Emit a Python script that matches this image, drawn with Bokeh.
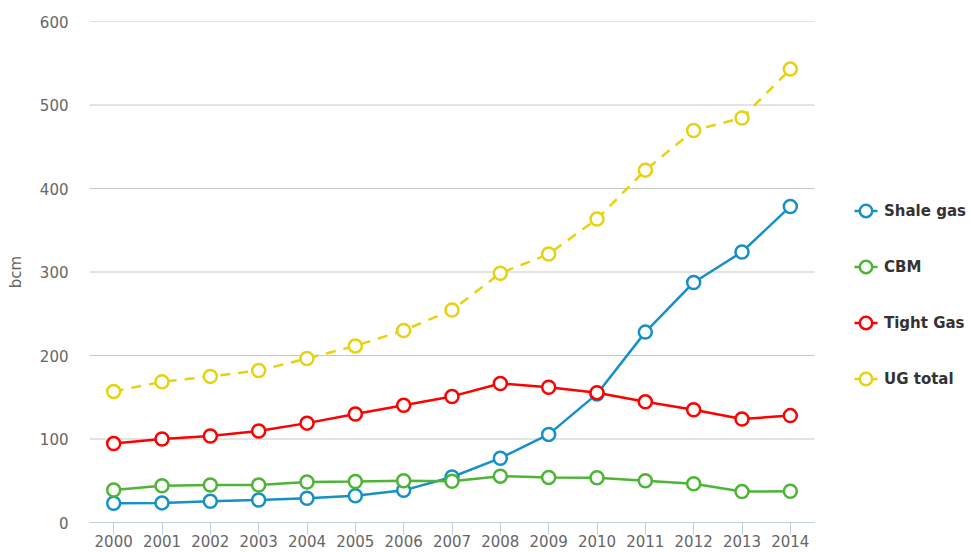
from bokeh.plotting import figure
from bokeh.models import Range1d, FixedTicker, Legend, LegendItem
from bokeh.embed import file_html
from bokeh.resources import INLINE

years = list(range(2000, 2015))
shale_gas = [23, 23.5, 25.5, 27, 29, 32, 38.5, 54.5, 77, 105.5, 154, 228, 287.5, 324, 378.5]
cbm = [39, 44, 45, 45, 48.5, 49, 50, 49.5, 55.5, 54, 53.5, 50, 46.5, 37, 37.5]
tight_gas = [94.5, 100, 103.5, 109.5, 119, 130, 140.5, 151, 166.5, 162, 155.5, 144.5, 135, 124, 128]
ug_total = [157, 168.5, 175, 182, 196.5, 211.5, 230, 254.5, 298.5, 321.5, 363.5, 422, 469.5, 484.5, 543]
y_ticks = [0, 100, 200, 300, 400, 500, 600]

series = [
    ("Shale gas", shale_gas, "#1590c9", "solid"),
    ("CBM", cbm, "#4db535", "solid"),
    ("Tight Gas", tight_gas, "#ff0000", "solid"),
    ("UG total", ug_total, "#e6d20f", "10 8"),
]

FONT = "DejaVu Sans"

W, H = 971, 552
LEFT, TOP, BOTTOM = 89, 21, 30
band_px = 725 / len(years)
x_start = years[0] - 0.5
x_band_end = years[-1] + 0.5
x_end = x_start + (W - LEFT) / band_px

p = figure(width=W, height=H, x_range=Range1d(x_start, x_end),
           y_range=Range1d(0, 600), output_backend="svg", toolbar_location=None,
           min_border_left=LEFT, min_border_right=0, min_border_top=TOP, min_border_bottom=BOTTOM)
p.outline_line_color = None
p.background_fill_color = "white"
p.border_fill_color = "white"

p.xgrid.grid_line_color = None
p.ygrid.grid_line_color = None
p.segment(x0=[x_start] * len(y_ticks), x1=[x_band_end] * len(y_ticks), y0=y_ticks, y1=y_ticks,
          line_color="#c8c8c8", line_width=1, level="underlay")

p.yaxis.ticker = FixedTicker(ticks=y_ticks)
p.yaxis.axis_line_color = None
p.yaxis.major_tick_line_color = None
p.yaxis.minor_tick_line_color = None
p.yaxis.major_tick_out = 0
p.yaxis.major_tick_in = 0
p.yaxis.major_label_standoff = 21
p.yaxis.major_label_text_font = FONT
p.yaxis.major_label_text_font_size = "15px"
p.yaxis.major_label_text_color = "#666666"
p.yaxis.axis_label = "bcm"
p.yaxis.axis_label_text_font = FONT
p.yaxis.axis_label_text_font_size = "15px"
p.yaxis.axis_label_text_font_style = "normal"
p.yaxis.axis_label_text_color = "#666666"
p.yaxis.axis_label_standoff = 12

p.xaxis.ticker = FixedTicker(ticks=years)
p.xaxis.bounds = (x_start, x_band_end)
p.xaxis.axis_line_color = "#c0d0e0"
p.xaxis.axis_line_width = 1
p.xaxis.major_tick_line_color = "#c0d0e0"
p.xaxis.minor_tick_line_color = None
p.xaxis.major_tick_out = 12
p.xaxis.major_tick_in = 0
p.xaxis.major_label_standoff = 0
p.xaxis.major_label_text_font = FONT
p.xaxis.major_label_text_font_size = "15px"
p.xaxis.major_label_text_color = "#666666"

items = []
for name, vals, color, dash in series:
    p.line(years, vals, line_color=color, line_width=2.5, line_dash=dash)
    sc = p.scatter(years, vals, size=13, marker="circle", fill_color="white",
                   line_color=color, line_width=2.5)
    leg_line = p.line(x=[years[0]], y=[float("nan")], line_color=color, line_width=2.5,
                      line_dash="0 4 23 4")
    items.append(LegendItem(label=name, renderers=[leg_line, sc]))

legend = Legend(items=items, location=(761, 128), orientation="vertical",
                glyph_width=31, glyph_height=31, spacing=25, label_standoff=3,
                padding=0, margin=0, border_line_color=None, background_fill_alpha=0,
                label_text_font=FONT, label_text_font_size="15px",
                label_text_font_style="bold", label_text_color="#333333")
p.add_layout(legend, "center")

open("out.html", "w").write(file_html(p, INLINE))
